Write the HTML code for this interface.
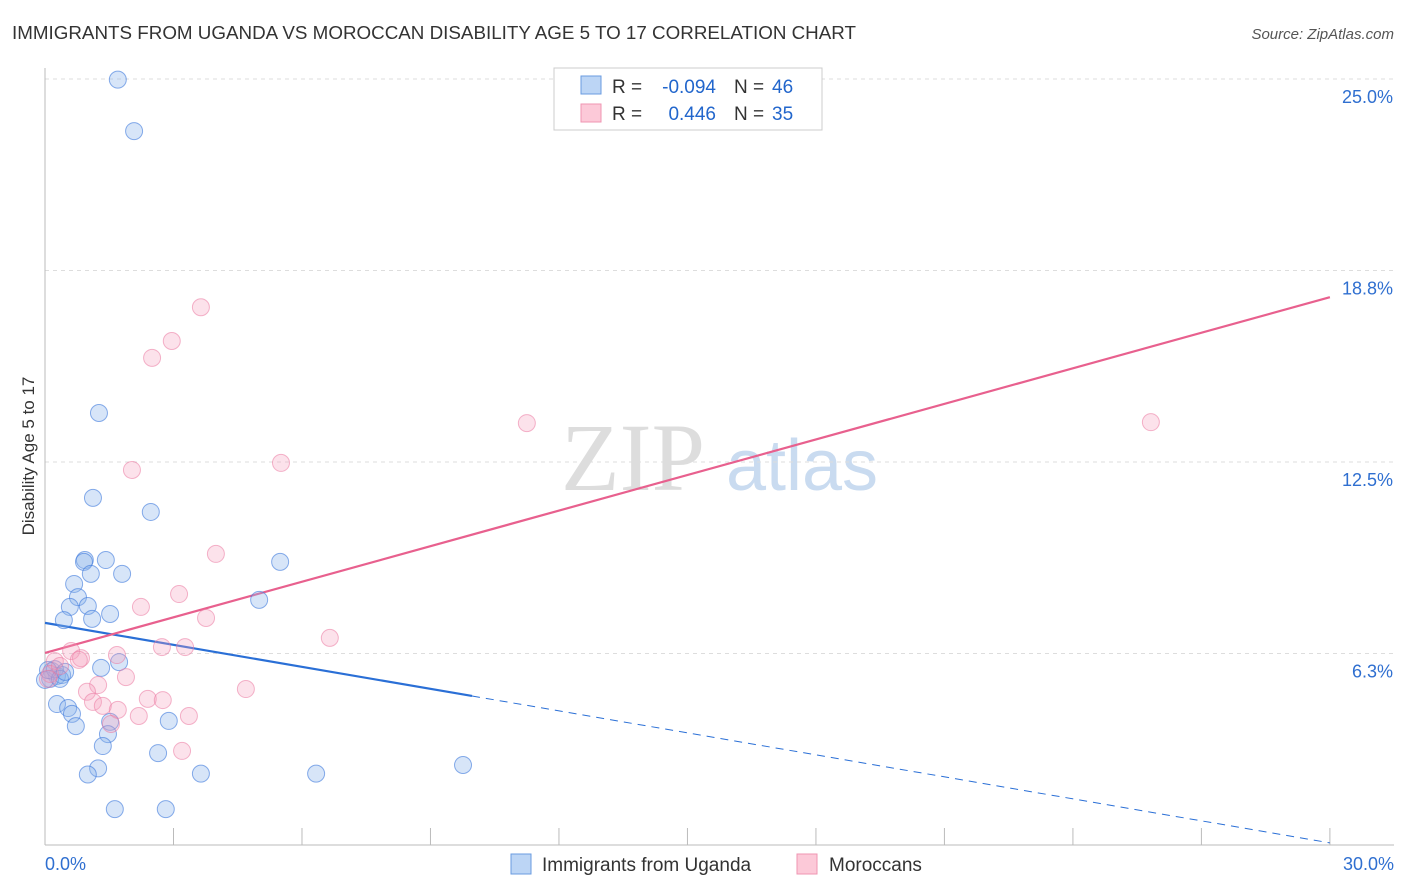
<!DOCTYPE html>
<html><head><meta charset="utf-8"><style>
body{margin:0;background:#fff;font-family:"Liberation Sans",sans-serif;}
#wrap{position:relative;width:1406px;height:892px;overflow:hidden}
</style></head><body>
<div id="wrap">
<svg id="svg" width="1406" height="892" xmlns="http://www.w3.org/2000/svg">
<text x="12" y="39" font-size="18" fill="#333" textLength="844" lengthAdjust="spacingAndGlyphs">IMMIGRANTS FROM UGANDA VS MOROCCAN DISABILITY AGE 5 TO 17 CORRELATION CHART</text>
<text x="1394" y="39" font-size="15" fill="#555" font-style="italic" text-anchor="end">Source: ZipAtlas.com</text>
<text x="34" y="456" font-size="17" fill="#333" text-anchor="middle" transform="rotate(-90 34 456)">Disability Age 5 to 17</text>
<g><text x="633" y="490" font-size="96" fill="#ddd" text-anchor="middle" font-family="Liberation Serif,serif">ZIP</text><text x="802" y="490" font-size="72" fill="#c9dbf0" text-anchor="middle">atlas</text></g>
<g id="grid"></g><g id="axes"></g><g id="lines"></g><g id="pts"></g>
<g>
<rect x="554" y="68" width="268" height="62" fill="#fff" stroke="#ccc"/>
<rect x="581" y="76" width="20" height="18" fill="#bcd5f5" stroke="#6a9be0"/>
<rect x="581" y="104" width="20" height="18" fill="#fcc9d8" stroke="#ef95b2"/>
<text x="612" y="93" font-size="19" fill="#333">R =</text>
<text x="716" y="93" font-size="19" fill="#2266cc" text-anchor="end">-0.094</text>
<text x="734" y="93" font-size="19" fill="#333">N =</text>
<text x="772" y="93" font-size="19" fill="#2266cc">46</text>
<text x="612" y="120" font-size="19" fill="#333">R =</text>
<text x="716" y="120" font-size="19" fill="#2266cc" text-anchor="end">0.446</text>
<text x="734" y="120" font-size="19" fill="#333">N =</text>
<text x="772" y="120" font-size="19" fill="#2266cc">35</text>
</g>
<g>
<rect x="511" y="854" width="20" height="20" fill="#bcd5f5" stroke="#6a9be0"/>
<text x="542" y="871" font-size="19" fill="#333">Immigrants from Uganda</text>
<rect x="797" y="854" width="20" height="20" fill="#fcc9d8" stroke="#ef95b2"/>
<text x="829" y="871" font-size="19" fill="#333">Moroccans</text>
</g>
</svg></div>
<script>
const yTicks=[25,18.75,12.5,6.25];
const yTickLabels=["25.0%","18.8%","12.5%","6.3%"];
const xTicks=[0,3,6,9,12,15,18,21,24,27,30];
const ugX=[1.7,2.08,1.26,1.12,2.47,0.93,0.91,1.42,1.07,1.8,5.49,0.68,0.77,0.58,1.0,1.52,0.44,1.1,5.0,1.73,1.31,0.16,0.28,0.12,0.4,0.0,0.23,0.28,0.54,0.63,0.72,1.52,1.47,1.35,2.89,2.64,1.24,1.0,3.64,6.33,9.76,1.63,2.82,0.07,0.35,0.47];
const ugY=[24.98,23.3,14.1,11.33,10.87,9.3,9.24,9.3,8.85,8.85,9.24,8.52,8.09,7.77,7.8,7.54,7.34,7.38,8.0,5.97,5.78,5.68,5.52,5.42,5.55,5.39,5.74,4.6,4.47,4.28,3.88,4.02,3.62,3.23,4.05,3.0,2.5,2.3,2.33,2.33,2.61,1.17,1.17,5.71,5.42,5.65];
const moX=[3.64,2.96,2.5,2.03,5.51,11.25,25.82,3.99,2.24,3.13,3.76,6.65,0.61,0.84,1.68,2.73,3.27,0.79,0.23,0.12,1.24,1.89,0.98,1.12,2.4,2.75,4.69,1.35,1.7,2.19,3.36,1.54,3.2,0.35,0.07];
const moY=[17.55,16.45,15.9,12.24,12.47,13.77,13.8,9.5,7.77,8.19,7.41,6.76,6.33,6.1,6.2,6.46,6.46,6.04,6.0,5.58,5.22,5.48,5.0,4.67,4.77,4.73,5.09,4.54,4.41,4.21,4.21,3.95,3.07,5.84,5.42];
const ugTrend=[7.25,0.07], moTrend=[6.27,17.88], ugSolidEnd=9.97;
const NS="http://www.w3.org/2000/svg";
const X=v=>45+v*42.83, Y=v=>845-v*30.64;
function mk(p,t,a){const e=document.createElementNS(NS,t);for(const k in a)e.setAttribute(k,a[k]);p.appendChild(e);return e;}
const grid=document.getElementById('grid'),axes=document.getElementById('axes'),lines=document.getElementById('lines'),pts=document.getElementById('pts');
yTicks.forEach((t,i)=>{
 const l=mk(grid,'line',{x1:45,x2:1394,y1:Y(t),y2:Y(t),stroke:'#ddd','stroke-dasharray':'4,4'});
 
 
 const tx=mk(axes,'text',{x:1393,y:Y(t)+24,'font-size':18,fill:'#2f6fd0','text-anchor':'end'});tx.textContent=yTickLabels[i];
 
 
});
mk(axes,'line',{x1:45,x2:45,y1:68,y2:845,stroke:'#bbb'});
mk(axes,'line',{x1:45,x2:1394,y1:845,y2:845,stroke:'#bbb'});
xTicks.forEach(t=>{const l=mk(axes,'line',{x1:X(t),x2:X(t),y1:828,y2:845,stroke:'#bbb'});
 
 });
const a=mk(axes,'text',{x:45,y:870,'font-size':18,fill:'#2f6fd0'});a.textContent='0.0%';


const b=mk(axes,'text',{x:1394,y:870,'font-size':18,fill:'#2f6fd0','text-anchor':'end'});b.textContent='30.0%';


function draw(xs,ys,fill,stroke,name){xs.forEach((x,i)=>{const c=mk(pts,'circle',{cx:X(x),cy:Y(ys[i]),r:8.5,fill:fill,stroke:stroke,'stroke-width':1});
 
 });}
draw(ugX,ugY,'rgba(140,180,235,0.35)','rgba(60,120,220,0.6)','uganda-point');
draw(moX,moY,'rgba(245,160,190,0.3)','rgba(235,120,160,0.55)','moroccan-point');
const ugAt=x=>ugTrend[0]+(ugTrend[1]-ugTrend[0])*x/30;
const l1=mk(lines,'line',{x1:X(0),y1:Y(ugAt(0)),x2:X(ugSolidEnd),y2:Y(ugAt(ugSolidEnd)),stroke:'#2a6fd6','stroke-width':2.2});


const l2=mk(lines,'line',{x1:X(ugSolidEnd),y1:Y(ugAt(ugSolidEnd)),x2:X(30),y2:Y(ugAt(30)),stroke:'#2a6fd6','stroke-width':1,'stroke-dasharray':'8,6'});


const l3=mk(lines,'line',{x1:X(0),y1:Y(moTrend[0]),x2:X(30),y2:Y(moTrend[1]),stroke:'#e8608e','stroke-width':2.2});


</script>
</body></html>
